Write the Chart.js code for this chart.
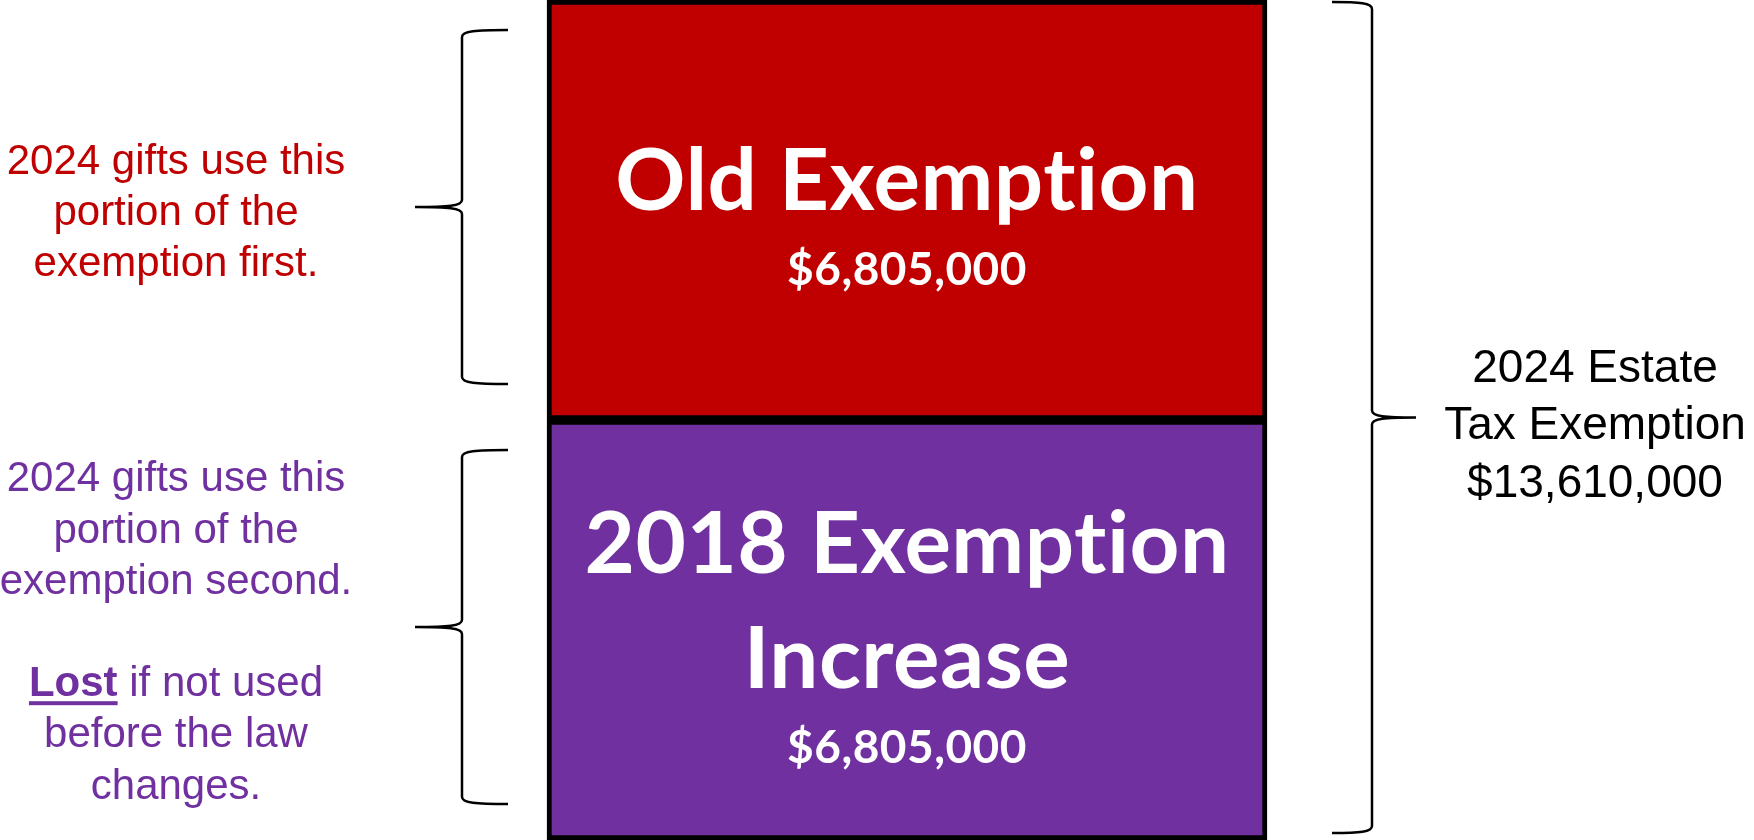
<!DOCTYPE html>
<html>
<head>
<meta charset="utf-8">
<script src="https://cdn.jsdelivr.net/npm/chart.js@4"></script>
<style>
    html, body { margin: 0; padding: 0; background: #fff; }
    canvas { display: block; }
</style>
</head>
<body>
<canvas id="exemptionChart" width="1754" height="840"></canvas>
<script>
// the two parts of the 2024 exemption, listed from the bottom of the bar up
const segmentTitles = [['2018 Exemption', 'Increase'], ['Old Exemption']];
const segmentValues = [6805000, 6805000];
const segmentColors = ['#7030A0', '#C00000'];

// notes written on the left of each part
const sideNotes = [
    ['2024 gifts use this', 'portion of the', 'exemption second.', '', 'Lost if not used', 'before the law', 'changes.'],
    ['2024 gifts use this', 'portion of the', 'exemption first.']
];
const boldWord = 'Lost';

// note on the right for the whole bar
const totalLines = ['2024 Estate', 'Tax Exemption'];
const totalValue = segmentValues.reduce((a, b) => a + b, 0);

const money = v => '$' + v.toLocaleString('en-US');

// draw a curly brace, dir = -1 tip to the left, 1 tip to the right
function drawBrace (ctx, x, yTop, yBottom, dir, arm, tip) {
    const yTip = (yTop + yBottom) / 2;
    const r = 7;
    const armX = x - dir * arm;
    const tipX = x + dir * tip;
    ctx.beginPath();
    ctx.moveTo(armX, yTop);
    ctx.bezierCurveTo(x - dir * arm * 0.3, yTop, x, yTop + 1, x, yTop + r);
    ctx.lineTo(x, yTip - r);
    ctx.bezierCurveTo(x, yTip - 1, x + dir * tip * 0.3, yTip, tipX, yTip);
    ctx.bezierCurveTo(x + dir * tip * 0.3, yTip, x, yTip + 1, x, yTip + r);
    ctx.lineTo(x, yBottom - r);
    ctx.bezierCurveTo(x, yBottom - 1, x - dir * arm * 0.3, yBottom, armX, yBottom);
    ctx.stroke();
}

const annotations = {
    id: 'annotations',
    afterDatasetsDraw (chart) {
        const ctx = chart.ctx;
        const yScale = chart.scales.y;
        ctx.save();
        ctx.textAlign = 'center';
        ctx.textBaseline = 'alphabetic';

        chart.data.datasets.forEach((ds, i) => {
            const bar = chart.getDatasetMeta(i).data[0];
            const top = Math.min(bar.y, bar.base);
            const bottom = Math.max(bar.y, bar.base);
            const mid = (top + bottom) / 2;
            const titles = segmentTitles[i];

            // text inside the bar (a little letter spacing keeps "ti" apart)
            ctx.fillStyle = '#ffffff';
            ctx.letterSpacing = '0.5px';
            let y = mid - (titles.length - 1) * 57.5;
            ctx.font = 'bold 87px Lato';
            titles.forEach((t, k) => ctx.fillText(t, bar.x, y + k * 115));
            ctx.font = 'bold 46px Lato';
            ctx.fillText(money(ds.data[0]), bar.x, y + (titles.length - 1) * 115 + 75);
            ctx.letterSpacing = '0px';

            // brace on the left
            ctx.strokeStyle = '#000000';
            ctx.lineWidth = 2.5;
            drawBrace(ctx, bar.x - bar.width / 2 - 85, top + 30, bottom - 36, -1, 46, 47);

            // note on the left
            const lines = sideNotes[i];
            const cx = bar.x - bar.width / 2 - 371;
            const lh = 51.2;
            let ly = mid - (lines.length - 1) * lh / 2 + 15;
            ctx.fillStyle = segmentColors[i];
            lines.forEach((line, k) => {
                const by = ly + k * lh;
                if (line.startsWith(boldWord)) {
                    const rest = line.slice(boldWord.length);
                    ctx.font = 'bold 42px "Liberation Sans"';
                    const wb = ctx.measureText(boldWord).width;
                    ctx.font = '42px "Liberation Sans"';
                    const wr = ctx.measureText(rest).width;
                    const x0 = cx - (wb + wr) / 2;
                    ctx.textAlign = 'left';
                    ctx.font = 'bold 42px "Liberation Sans"';
                    ctx.fillText(boldWord, x0, by);
                    ctx.fillRect(x0, by + 5, wb, 4);
                    ctx.font = '42px "Liberation Sans"';
                    ctx.fillText(rest, x0 + wb, by);
                    ctx.textAlign = 'center';
                } else {
                    ctx.font = '42px "Liberation Sans"';
                    ctx.fillText(line, cx, by);
                }
            });
        });

        // brace and note for the whole bar
        const bar0 = chart.getDatasetMeta(0).data[0];
        const right = bar0.x + bar0.width / 2;
        const yTop = yScale.getPixelForValue(totalValue);
        const yBottom = yScale.getPixelForValue(0);
        ctx.strokeStyle = '#000000';
        ctx.lineWidth = 2.5;
        drawBrace(ctx, right + 105, yTop + 2, yBottom - 7, 1, 40, 44);

        const rightLines = totalLines.concat([money(totalValue)]);
        const rx = right + 328;
        const rmid = (yTop + yBottom) / 2;
        ctx.fillStyle = '#000000';
        ctx.font = '46px "Liberation Sans"';
        rightLines.forEach((line, k) => {
            ctx.fillText(line, rx, rmid - 57.5 + 19 + k * 57.5);
        });
        ctx.restore();
    }
};

const data = {
    labels: ['2024'],
    datasets: segmentValues.map((v, i) => ({
        label: segmentTitles[i].join(' '),
        data: [v],
        backgroundColor: segmentColors[i],
        borderColor: '#000000',
        borderWidth: 5,
        borderSkipped: false,
        barThickness: 720
    }))
};

const config = {
    type: 'bar',
    data: data,
    options: {
        responsive: false,
        animation: false,
        layout: {
            padding: { left: 60, right: 0, top: 0, bottom: 0 }
        },
        scales: {
            x: { display: false, stacked: true },
            y: { display: false, stacked: true, min: 0, max: totalValue }
        },
        plugins: {
            legend: { display: false },
            tooltip: { enabled: false }
        }
    },
    plugins: [annotations]
};

const myChart = new Chart(document.getElementById('exemptionChart'), config);
</script>
</body>
</html>
